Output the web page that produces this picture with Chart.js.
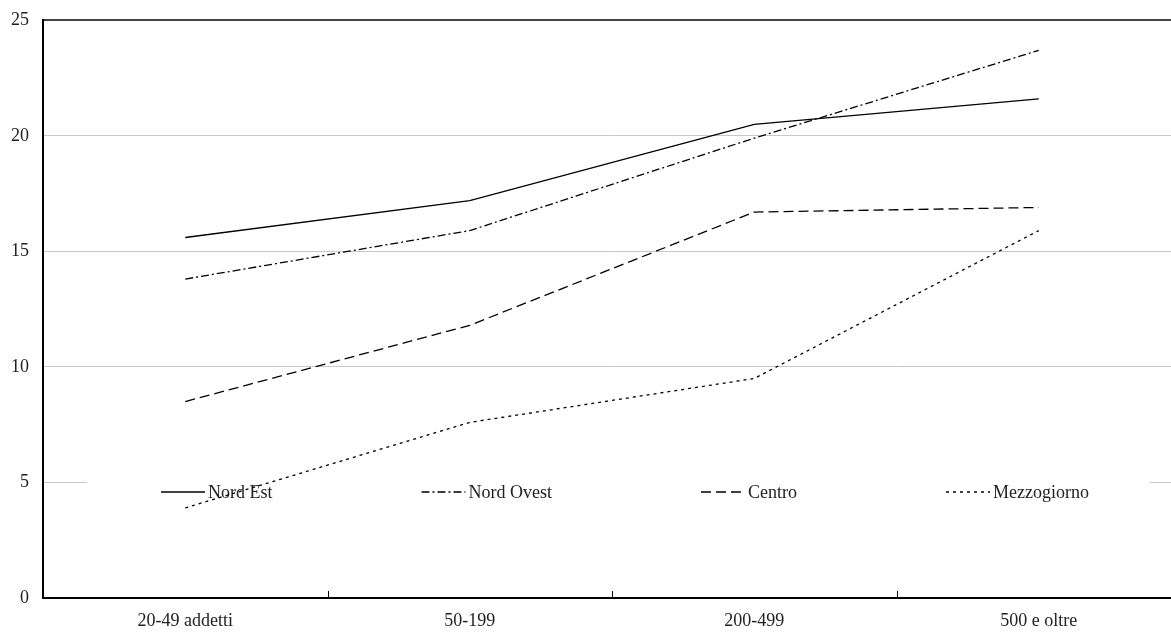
<!DOCTYPE html>
<html>
<head>
<meta charset="utf-8">
<script src="https://cdn.jsdelivr.net/npm/chart.js@4/dist/chart.umd.min.js"></script>
<style>
  html, body { margin: 0; padding: 0; background: #fff; overflow: hidden; }
  #wrap { width: 1181px; height: 635px; }
</style>
</head>
<body>
<div id="wrap"><canvas id="chart" width="1181" height="635"></canvas></div>
<script>
const categories = ['20-49 addetti', '50-199', '200-499', '500 e oltre'];
const nordEst = [15.6, 17.2, 20.5, 21.6];
const nordOvest = [13.8, 15.9, 19.9, 23.7];
const centro = [8.5, 11.8, 16.7, 16.9];
const mezzogiorno = [3.9, 7.6, 9.5, 15.9];
const yTicks = [0, 5, 10, 15, 20, 25];

const FONT = '"Liberation Serif", "Times New Roman", serif';

const series = [
    { label: 'Nord Est', data: nordEst, dash: [] },
    { label: 'Nord Ovest', data: nordOvest, dash: [8, 3, 2, 3] },
    { label: 'Centro', data: centro, dash: [10, 5] },
    { label: 'Mezzogiorno', data: mezzogiorno, dash: [3, 4] },
];

// legend drawn over the grid but under the lines, like the original
const innerLegend = {
    id: 'innerLegend',
    beforeDatasetsDraw(chart) {
        const { ctx, chartArea } = chart;
        const cy = chartArea.bottom - 106;
        ctx.save();
        ctx.fillStyle = '#fff';
        ctx.fillRect(chartArea.left + 44, cy - 16, 1063, 32);
        ctx.font = '18px ' + FONT;
        ctx.textBaseline = 'middle';
        let x = chartArea.left + 118;
        chart.data.datasets.forEach((ds) => {
            ctx.strokeStyle = '#000';
            ctx.lineWidth = 1.3;
            ctx.setLineDash(ds.borderDash || []);
            ctx.beginPath();
            ctx.moveTo(x, cy);
            ctx.lineTo(x + 44, cy);
            ctx.stroke();
            ctx.setLineDash([]);
            ctx.fillStyle = '#222';
            ctx.fillText(ds.label, x + 47, cy + 1);
            x += 47 + ctx.measureText(ds.label).width + 149;
        });
        ctx.restore();
    },
    afterDraw(chart) {
        // small inward ticks between categories
        const { ctx, chartArea } = chart;
        const xs = chart.scales.x;
        ctx.save();
        ctx.strokeStyle = '#000';
        ctx.lineWidth = 1;
        for (let i = 1; i < categories.length; i++) {
            const px = Math.round((xs.getPixelForValue(i - 1) + xs.getPixelForValue(i)) / 2) + 0.5;
            ctx.beginPath();
            ctx.moveTo(px, chartArea.bottom - 7);
            ctx.lineTo(px, chartArea.bottom);
            ctx.stroke();
        }
        ctx.restore();
    }
};

new Chart(document.getElementById('chart'), {
    type: 'line',
    data: {
        labels: categories,
        datasets: series.map(s => ({
            label: s.label,
            data: s.data,
            borderColor: '#000',
            borderWidth: 1.3,
            borderDash: s.dash,
            pointRadius: 0,
            tension: 0,
            fill: false,
        })),
    },
    options: {
        responsive: false,
        animation: false,
        layout: { padding: { top: 20, right: 0, bottom: 0, left: 0 } },
        plugins: {
            legend: { display: false },
            title: { display: false },
            tooltip: { enabled: false },
        },
        scales: {
            x: {
                offset: true,
                grid: { display: false, drawTicks: false },
                border: { display: true, color: '#000', width: 2 },
                ticks: { color: '#222', font: { family: FONT, size: 18 }, padding: 12, maxRotation: 0 },
                afterFit(scale) { scale.height = 37; },
            },
            y: {
                min: 0,
                max: 25,
                afterBuildTicks(scale) { scale.ticks = yTicks.map(v => ({ value: v })); },
                grid: {
                    drawTicks: false,
                    color: (c) => c.tick && c.tick.value === 25 ? '#444' : '#c8c8c8',
                    lineWidth: (c) => c.tick && c.tick.value === 25 ? 2 : 1,
                },
                border: { display: true, color: '#000', width: 2 },
                ticks: { color: '#222', font: { family: FONT, size: 18, lineHeight: 0.7 }, padding: 14 },
                afterFit(scale) { scale.width = 43; },
            },
        },
    },
    plugins: [innerLegend],
});
</script>
</body>
</html>
